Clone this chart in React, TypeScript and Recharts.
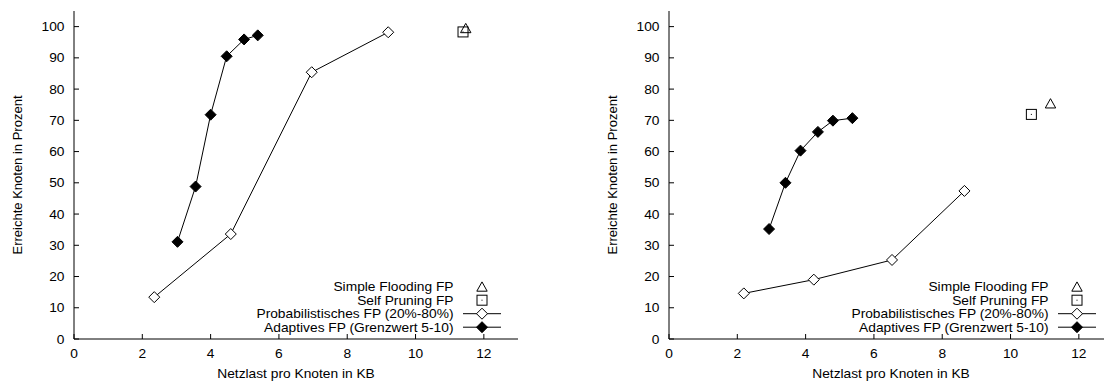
import React from 'react';
import { ScatterChart, Scatter, XAxis, YAxis, Legend } from 'recharts';

const X_TICKS = [0, 2, 4, 6, 8, 10, 12];
const Y_TICKS = [0, 10, 20, 30, 40, 50, 60, 70, 80, 90, 100];
const X_DOMAIN = [0, 13];
const Y_DOMAIN = [0, 105];

const SERIES_NAMES = [
  'Simple Flooding FP',
  'Self Pruning FP',
  'Probabilistisches FP (20%-80%)',
  'Adaptives FP (Grenzwert 5-10)',
];
const X_TITLE = 'Netzlast pro Knoten in KB';
const Y_TITLE = 'Erreichte Knoten in Prozent';

// Left chart
const leftSimpleX = [11.47];
const leftSimpleY = [99.5];
const leftSelfX = [11.39];
const leftSelfY = [98.3];
const leftProbX = [2.35, 4.59, 6.96, 9.2];
const leftProbY = [13.4, 33.6, 85.4, 98.2];
const leftAdaptX = [3.03, 3.56, 4.0, 4.47, 4.98, 5.38];
const leftAdaptY = [31.1, 48.8, 71.8, 90.5, 95.9, 97.2];

// Right chart
const rightSimpleX = [11.17];
const rightSimpleY = [75.4];
const rightSelfX = [10.61];
const rightSelfY = [71.9];
const rightProbX = [2.19, 4.24, 6.53, 8.65];
const rightProbY = [14.6, 19.0, 25.3, 47.4];
const rightAdaptX = [2.93, 3.41, 3.85, 4.36, 4.8, 5.37];
const rightAdaptY = [35.2, 50.0, 60.3, 66.3, 69.9, 70.7];

const zip = (xs: number[], ys: number[]) => xs.map((x, i) => ({ x, y: ys[i] }));

const FONT = '"Liberation Sans", Arial, Helvetica, sans-serif';
const FS = 13;
const INK = '#000';
const SX = 1.06;

const HText = ({ x, y, anchor, children }: { x: number; y: number; anchor: 'start' | 'middle' | 'end'; children: any }) => (
  <g transform={`translate(${x} ${y}) scale(${SX} 1)`}>
    <text x={0} y={0} dy="0.35em" textAnchor={anchor} fontFamily={FONT} fontSize={FS} fill={INK}>
      {children}
    </text>
  </g>
);

const triPath = (cx: number, cy: number) =>
  `M${cx},${cy - 4.8} L${cx + 5.2},${cy + 4.5} L${cx - 5.2},${cy + 4.5} Z`;
const diaPath = (cx: number, cy: number, r: number) =>
  `M${cx},${cy - r} L${cx + r},${cy} L${cx},${cy + r} L${cx - r},${cy} Z`;

const TriangleMark = (cx: number, cy: number) => (
  <path d={triPath(cx, cy)} fill="none" stroke={INK} strokeWidth={1} />
);
const SquareMark = (cx: number, cy: number) => (
  <g>
    <rect x={cx - 5} y={cy - 5} width={10} height={10} fill="none" stroke={INK} strokeWidth={1} />
    <rect x={cx - 0.5} y={cy - 0.5} width={1} height={1} fill={INK} />
  </g>
);
const HollowDiamondMark = (cx: number, cy: number) => (
  <path d={diaPath(cx, cy, 5.5)} fill="#fff" stroke={INK} strokeWidth={1} />
);
const FilledDiamondMark = (cx: number, cy: number) => (
  <path d={diaPath(cx, cy, 5.5)} fill={INK} stroke={INK} strokeWidth={1} />
);

const MARKS = [TriangleMark, SquareMark, HollowDiamondMark, FilledDiamondMark];

const shapeOf = (i: number) => (p: any) => MARKS[i](p.cx, p.cy);

const BottomTick = (p: any) => (
  <g>
    <line x1={p.x} x2={p.x} y1={p.y} y2={p.y - 5} stroke={INK} strokeWidth={1} />
    <HText x={p.x} y={p.y + 14} anchor="middle">
      {p.payload.value}
    </HText>
  </g>
);
const TopTick = (p: any) => (
  <line x1={p.x} x2={p.x} y1={p.y} y2={p.y + 5} stroke={INK} strokeWidth={1} />
);
const LeftTick = (p: any) => (
  <g>
    <line x1={p.x} x2={p.x + 5} y1={p.y} y2={p.y} stroke={INK} strokeWidth={1} />
    <HText x={p.x - 9.5} y={p.y} anchor="end">
      {p.payload.value}
    </HText>
  </g>
);
const RightTick = (p: any) => (
  <line x1={p.x} x2={p.x - 5} y1={p.y} y2={p.y} stroke={INK} strokeWidth={1} />
);

const XTitle = (p: any) => {
  const vb = p.viewBox;
  return (
    <HText x={vb.x + vb.width / 2} y={vb.y + 34} anchor="middle">
      {X_TITLE}
    </HText>
  );
};
const YTitle = (p: any) => {
  const vb = p.viewBox;
  const cx = vb.x + 17.5;
  const cy = vb.y + vb.height / 2;
  return (
    <text x={cx} y={cy} dy="0.35em" transform={`rotate(-90 ${cx} ${cy})`} textAnchor="middle" fontFamily={FONT} fontSize={FS} fill={INK}>
      {Y_TITLE}
    </text>
  );
};

const LegendBox = () => (
  <svg width={270} height={62} style={{ display: 'block', overflow: 'visible' }}>
    {SERIES_NAMES.map((name, i) => {
      const y = 8.7 + i * 13.5;
      return (
        <g key={name}>
          <HText x={203.5} y={y} anchor="end">
            {name}
          </HText>
          {i >= 2 && <line x1={213} x2={251} y1={y} y2={y} stroke={INK} strokeWidth={1} />}
          {MARKS[i](232, y)}
        </g>
      );
    })}
  </svg>
);

type Pt = { x: number; y: number };

const Panel = ({ simple, self, prob, adapt }: { simple: Pt[]; self: Pt[]; prob: Pt[]; adapt: Pt[] }) => (
  <ScatterChart width={540} height={381} margin={{ top: 11, right: 22, bottom: 0, left: 0 }}>
    <XAxis
      xAxisId="main"
      type="number"
      dataKey="x"
      domain={X_DOMAIN}
      ticks={X_TICKS}
      interval={0}
      height={42}
      tickSize={0}
      tickMargin={0}
      tickLine={false}
      tick={BottomTick}
      axisLine={{ stroke: INK, strokeWidth: 1 }}
      allowDataOverflow
      label={XTitle}
    />
    <XAxis
      xAxisId="top"
      orientation="top"
      type="number"
      dataKey="x"
      domain={X_DOMAIN}
      ticks={X_TICKS}
      interval={0}
      height={0}
      tickSize={0}
      tickMargin={0}
      tickLine={false}
      tick={TopTick}
      axisLine={{ stroke: INK, strokeWidth: 1 }}
      allowDataOverflow
    />
    <YAxis
      yAxisId="main"
      type="number"
      dataKey="y"
      domain={Y_DOMAIN}
      ticks={Y_TICKS}
      interval={0}
      width={74}
      tickSize={0}
      tickMargin={0}
      tickLine={false}
      tick={LeftTick}
      axisLine={{ stroke: INK, strokeWidth: 1 }}
      allowDataOverflow
      label={YTitle}
    />
    <YAxis
      yAxisId="right"
      orientation="right"
      type="number"
      dataKey="y"
      domain={Y_DOMAIN}
      ticks={Y_TICKS}
      interval={0}
      width={0}
      tickSize={0}
      tickMargin={0}
      tickLine={false}
      tick={RightTick}
      axisLine={{ stroke: INK, strokeWidth: 1 }}
      allowDataOverflow
    />
    <Legend
      layout="vertical"
      align="center"
      verticalAlign="middle"
      wrapperStyle={{ left: 250, top: 278, width: 270, height: 62, margin: 0, padding: 0 }}
      content={() => <LegendBox />}
    />
    <Scatter
      name={SERIES_NAMES[0]}
      data={simple}
      xAxisId="main"
      yAxisId="main"
      shape={shapeOf(0)}
      isAnimationActive={false}
    />
    <Scatter
      name={SERIES_NAMES[1]}
      data={self}
      xAxisId="main"
      yAxisId="main"
      shape={shapeOf(1)}
      isAnimationActive={false}
    />
    <Scatter
      name={SERIES_NAMES[2]}
      data={prob}
      xAxisId="main"
      yAxisId="main"
      line={{ stroke: INK, strokeWidth: 1 }}
      lineType="joint"
      shape={shapeOf(2)}
      isAnimationActive={false}
    />
    <Scatter
      name={SERIES_NAMES[3]}
      data={adapt}
      xAxisId="main"
      yAxisId="main"
      line={{ stroke: INK, strokeWidth: 1 }}
      lineType="joint"
      shape={shapeOf(3)}
      isAnimationActive={false}
    />
  </ScatterChart>
);

export default function App() {
  return (
    <div
      style={{
        position: 'absolute',
        left: 0,
        top: 0,
        width: 1104,
        height: 381,
        overflow: 'hidden',
        background: '#fff',
      }}
    >
      <div style={{ position: 'absolute', left: 0, top: 0 }}>
        <Panel
          simple={zip(leftSimpleX, leftSimpleY)}
          self={zip(leftSelfX, leftSelfY)}
          prob={zip(leftProbX, leftProbY)}
          adapt={zip(leftAdaptX, leftAdaptY)}
        />
      </div>
      <div style={{ position: 'absolute', left: 595, top: 0 }}>
        <Panel
          simple={zip(rightSimpleX, rightSimpleY)}
          self={zip(rightSelfX, rightSelfY)}
          prob={zip(rightProbX, rightProbY)}
          adapt={zip(rightAdaptX, rightAdaptY)}
        />
      </div>
    </div>
  );
}
